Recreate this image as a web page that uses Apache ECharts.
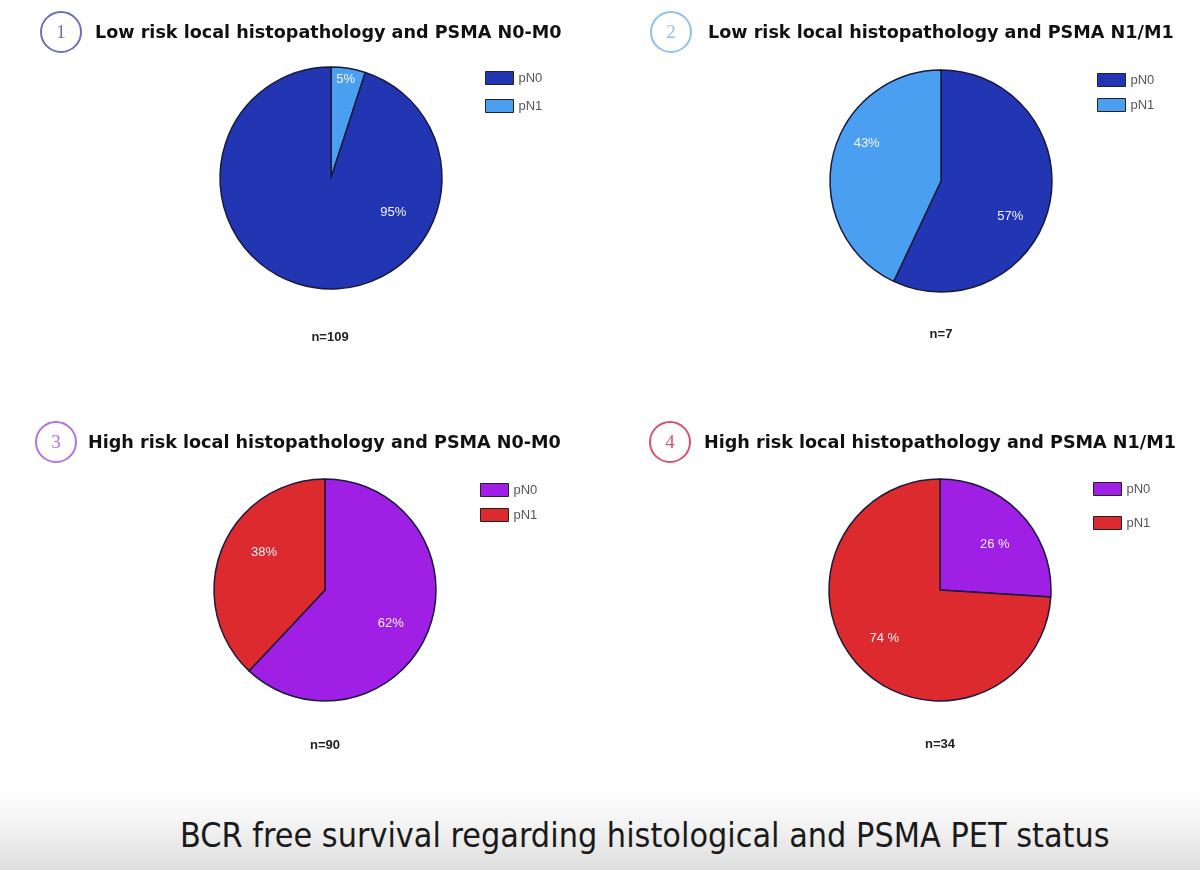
<!DOCTYPE html>
<html>
<head>
<meta charset="utf-8">
<script src="https://cdn.jsdelivr.net/npm/echarts@6/dist/echarts.min.js"></script>
<style>
  html, body { margin: 0; padding: 0; background: #fff; }
  #page { position: relative; width: 1200px; height: 870px; overflow: hidden; background: #fff; }
  .panel { position: absolute; width: 600px; height: 400px; }
  #footer {
    position: absolute; left: 0; top: 790px; width: 1200px; height: 80px;
    background: linear-gradient(to bottom, #ffffff 0%, #f4f4f4 40%, #dedede 100%);
  }
  #footer span {
    position: absolute; left: 180px; top: 26px;
    font-family: 'DejaVu Sans Condensed', 'Liberation Sans Narrow', sans-serif;
    font-size: 33.8px; color: #1a1a1a; white-space: nowrap;
  }
</style>
</head>
<body>
<div id="page">
  <div id="p1" class="panel" style="left:0;top:0"></div>
  <div id="p2" class="panel" style="left:600px;top:0"></div>
  <div id="p3" class="panel" style="left:0;top:410px"></div>
  <div id="p4" class="panel" style="left:600px;top:410px"></div>
  <div id="footer"><span>BCR free survival regarding histological and PSMA PET status</span></div>
</div>
<script>
// panel titles and counts
const titles = [
  'Low risk local histopathology and PSMA N0-M0',
  'Low risk local histopathology and PSMA N1/M1',
  'High risk local histopathology and PSMA N0-M0',
  'High risk local histopathology and PSMA N1/M1'
]
const counts = ['n=109', 'n=7', 'n=90', 'n=34']
const legendNames = ['pN0', 'pN1']

// slices in clockwise order from 12 o'clock (percent)
const names1 = ['pN1', 'pN0']
const values1 = [5, 95]
const names2 = ['pN0', 'pN1']
const values2 = [57, 43]
const names3 = ['pN0', 'pN1']
const values3 = [62, 38]
const names4 = ['pN0', 'pN1']
const values4 = [26, 74]

const blue = { pN0: '#2236b4', pN1: '#4b9ff0' }
const purpleRed = { pN0: '#a01fe4', pN1: '#dc2a2e' }

// nudge: per-slice label shift [dx, dy], same order as the slices
const panels = [
  { el: 'p1', names: names1, values: values1, colors: blue, badge: '#6f6fb4', num: '1',
    circle: [61, 32], titleX: 95, center: [331, 178], legend: [485, 71, 14], n: [330, 337], unit: '%',
    nudge: [[3, -24], [74, -40]] },
  { el: 'p2', names: names2, values: values2, colors: blue, badge: '#8fc1ea', num: '2',
    circle: [71, 32], titleX: 108, center: [341, 181], legend: [497, 73, 11], n: [341, 334], unit: '%',
    nudge: [[-4, 19], [-1, -21]] },
  { el: 'p3', names: names3, values: values3, colors: purpleRed, badge: '#b372e2', num: '3',
    circle: [56, 32], titleX: 88, center: [325, 180], legend: [480, 73, 11], n: [325, 335], unit: '%',
    nudge: [[-4, 6], [9, -10]] },
  { el: 'p4', names: names4, values: values4, colors: purpleRed, badge: '#d2566e', num: '4',
    circle: [70, 32], titleX: 104, center: [340, 180], legend: [493, 72, 20], n: [340, 334], unit: ' %',
    nudge: [[0, 6], [-1, -3]] }
]

const R = 111
const sans = 'Liberation Sans, Arial, sans-serif'

panels.forEach((p, i) => {
  const c = echarts.init(document.getElementById(p.el), null, { renderer: 'canvas' })
  const data = p.names.map((nm, k) => ({ name: nm, value: p.values[k], itemStyle: { color: p.colors[nm] } }))
  c.setOption({
    animation: false,
    title: {
      text: titles[i], left: p.titleX, top: 24, padding: 0,
      textStyle: { fontFamily: 'DejaVu Sans, sans-serif', fontSize: 17.6, fontWeight: 'bold', color: '#111' }
    },
    legend: {
      data: legendNames, orient: 'vertical', left: p.legend[0], top: p.legend[1], padding: 0,
      itemWidth: 28, itemHeight: 13, itemGap: p.legend[2], icon: 'rect',
      itemStyle: { borderColor: '#222', borderWidth: 1 },
      textStyle: { fontFamily: sans, fontSize: 13, color: '#555' }
    },
    graphic: [
      { type: 'circle', shape: { cx: p.circle[0], cy: p.circle[1], r: 20 },
        style: { fill: 'none', stroke: p.badge, lineWidth: 2 } },
      { type: 'text', x: p.circle[0], y: p.circle[1] + 1,
        style: { text: p.num, fill: p.badge, font: '19px "Liberation Serif", serif', align: 'center', verticalAlign: 'middle' } },
      { type: 'text', x: p.n[0], y: p.n[1],
        style: { text: counts[i], fill: '#222', font: 'bold 13px "Liberation Sans", Arial, sans-serif', align: 'center', verticalAlign: 'middle' } }
    ],
    series: [
      {
        type: 'pie', center: p.center, radius: R, startAngle: 90, clockwise: true,
        data, silent: true,
        label: { show: false }, labelLine: { show: false },
        itemStyle: { borderColor: '#1a1a3a', borderWidth: 1.5 }
      },
      {
        // transparent copy carrying the percentage labels at ~0.65r
        type: 'pie', center: p.center, radius: [R * 0.3, R], startAngle: 90, clockwise: true,
        silent: true, z: 3,
        data: p.names.map((nm, k) => ({ name: nm, value: p.values[k], itemStyle: { color: 'rgba(0,0,0,0)' } })),
        itemStyle: { borderWidth: 0 },
        label: {
          show: true, position: 'inside', formatter: '{c}' + p.unit,
          color: '#f4f4ff', fontSize: 13, fontFamily: sans
        },
        labelLine: { show: false },
        labelLayout: (params) => {
          const d = p.nudge[params.dataIndex]
          return { dx: d[0], dy: d[1] }
        }
      }
    ]
  })
})
</script>
</body>
</html>
